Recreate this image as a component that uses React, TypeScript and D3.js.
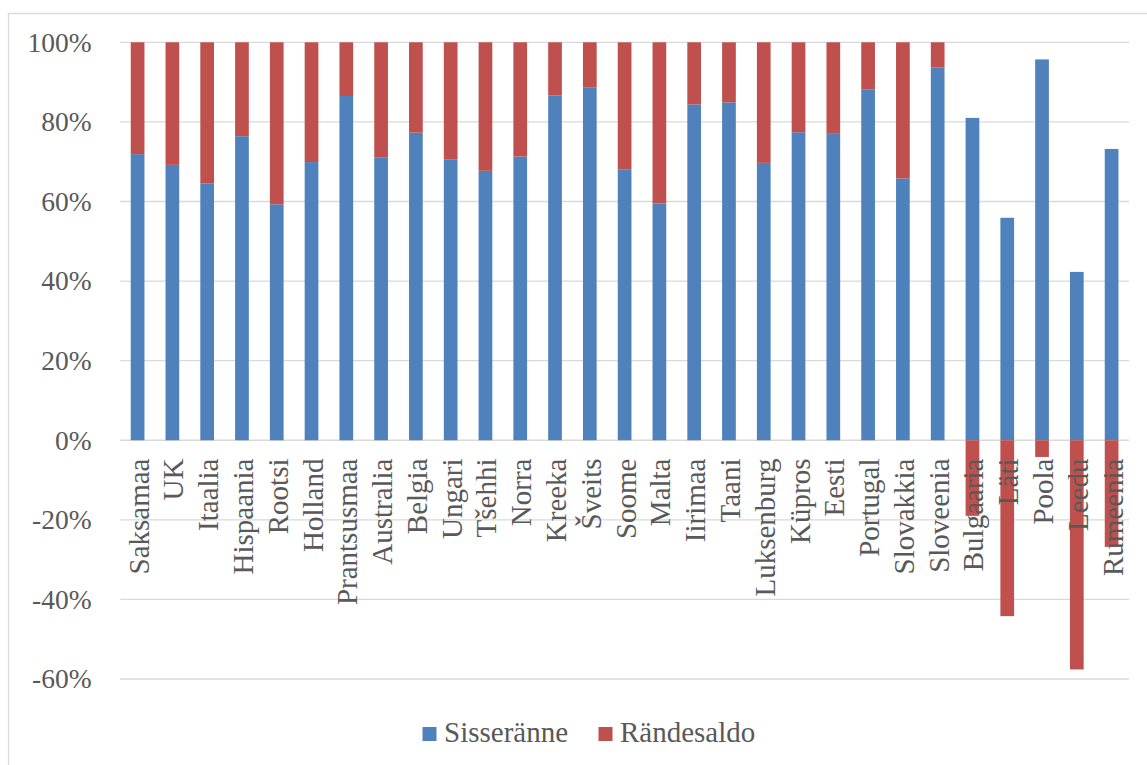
import React from "react";
import * as d3 from "d3";

const categories = [
  "Saksamaa", "UK", "Itaalia", "Hispaania", "Rootsi", "Holland", "Prantsusmaa",
  "Australia", "Belgia", "Ungari", "Tšehhi", "Norra", "Kreeka", "Šveits", "Soome",
  "Malta", "Iirimaa", "Taani", "Luksenburg", "Küpros", "Eesti", "Portugal",
  "Slovakkia", "Sloveenia", "Bulgaaria", "Läti", "Poola", "Leedu", "Rumeenia",
];
const sisseranne = [
  71.9, 69.2, 64.5, 76.4, 59.3, 69.9, 86.5, 71.0, 77.3, 70.6, 67.7, 71.3, 86.6,
  88.7, 68.1, 59.5, 84.4, 84.9, 69.7, 77.4, 77.0, 88.2, 65.8, 93.7, 81.0, 55.9,
  95.7, 42.3, 73.2,
];
const randesaldo = [
  28.1, 30.8, 35.5, 23.6, 40.7, 30.1, 13.5, 29.0, 22.7, 29.4, 32.3, 28.7, 13.4,
  11.3, 31.9, 40.5, 15.6, 15.1, 30.3, 22.6, 23.0, 11.8, 34.2, 6.3, -19.0, -44.2,
  -4.2, -57.6, -26.8,
];
const yTicks = [-60, -40, -20, 0, 20, 40, 60, 80, 100];
const seriesNames = ["Sisseränne", "Rändesaldo"];

const BLUE = "#4f81bd";
const RED = "#c0504d";
const FONT = "Liberation Serif, Times New Roman, DejaVu Serif, serif";
const TXT: React.CSSProperties = { fontFamily: FONT };

export default function App() {
  const W = 1147, H = 765;
  const x = d3.scaleBand<string>().domain(categories).range([120.2, 1129]).paddingInner(0.606).paddingOuter(0.303);
  const y = d3.scaleLinear().domain([-60, 100]).range([679, 42.3]);
  const bw = x.bandwidth();

  return (
    <svg width={W} height={H} style={{ position: "absolute", left: 0, top: 0, background: "#fff" }}>
      <rect x={8.5} y={13.5} width={W + 20} height={H + 20} fill="#fff" stroke="#d9d9d9" strokeWidth={1.3} />
      {yTicks.map((t) => (
        <g key={t}>
          <line x1={120.2} x2={1129} y1={y(t)} y2={y(t)} stroke="#d9d9d9" strokeWidth={1.3} />
          <text x={91.7} y={y(t)} dy="0.34em" textAnchor="end" fontSize={27.5} fill="#595959" style={TXT}>
            {t + "%"}
          </text>
        </g>
      ))}
      {categories.map((c, i) => {
        const x0 = x(c)!;
        const b = sisseranne[i];
        const r = randesaldo[i];
        return (
          <g key={c}>
            <rect x={x0} y={y(b)} width={bw} height={y(0) - y(b)} fill={BLUE} />
            {r >= 0 ? (
              <rect x={x0} y={y(b + r)} width={bw} height={y(b) - y(b + r)} fill={RED} />
            ) : (
              <rect x={x0} y={y(0)} width={bw} height={y(r) - y(0)} fill={RED} />
            )}
          </g>
        );
      })}
      {categories.map((c) => {
        const cx = x(c)! + bw / 2;
        return (
          <text key={"l" + c} transform={`translate(${cx},458.5) rotate(-90)`} dy="0.38em" textAnchor="end" fontSize={29} fill="#595959" style={TXT}>
            {c}
          </text>
        );
      })}
      <g>
        <rect x={422.5} y={727} width={14} height={14} fill={BLUE} />
        <text x={444} y={741.7} fontSize={29} fill="#595959" style={TXT}>{seriesNames[0]}</text>
        <rect x={598.5} y={727} width={14} height={14} fill={RED} />
        <text x={620} y={741.7} fontSize={29} fill="#595959" style={TXT}>{seriesNames[1]}</text>
      </g>
    </svg>
  );
}
